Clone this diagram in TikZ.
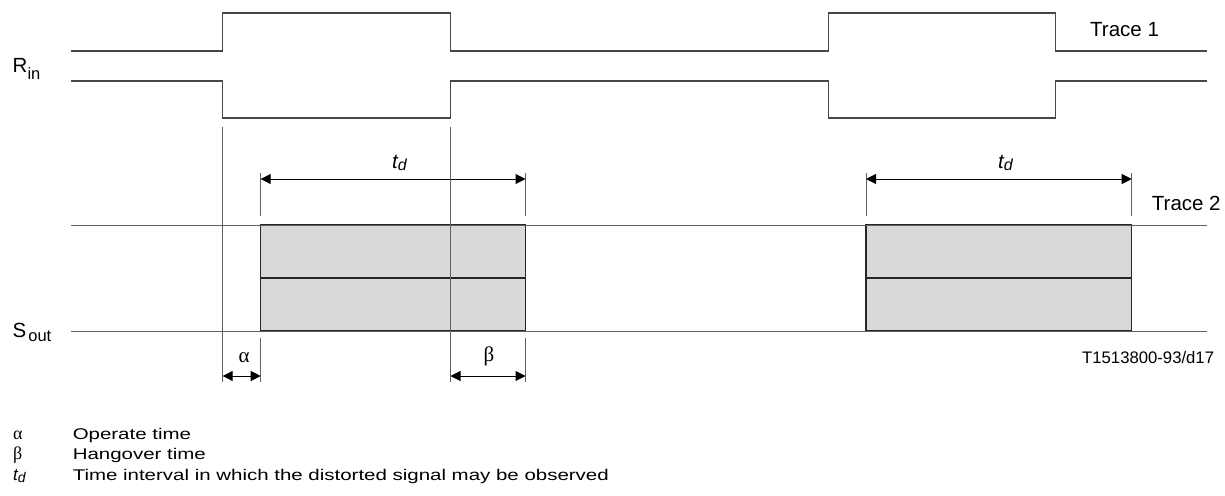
\documentclass[tikz,border=0pt]{standalone}
\usepackage{fontspec}
\setmainfont{Liberation Sans}
\newfontfamily\greekfont{Liberation Serif}
\usetikzlibrary{arrows.meta}

\newcommand{\fsz}[1]{\fontsize{#1}{#1}\selectfont}

\begin{document}
\begin{tikzpicture}[
  x=1pt, y=-1pt,
  wave/.style={draw=black!72, line width=1.3pt},
  guide/.style={draw=black!62, line width=0.9pt},
  window/.style={draw=black!85, fill=black!15, line width=1.2pt},
  dim/.style={{Triangle[length=10pt,width=10pt]}-{Triangle[length=10pt,width=10pt]}, line width=1pt},
  lbl/.style={inner sep=0pt, anchor=base west, font=\fsz{20.5}},
  keysym/.style={inner sep=0pt, anchor=base west, font=\greekfont\fsz{18}},
  legend/.style={inner sep=0pt, anchor=base west, font=\fsz{15.5}, xscale=1.32}
]
\useasboundingbox (0,0) rectangle (1225,495);

% switching instants and observation windows
\coordinate (on1) at (222.7,0);
\coordinate (off1) at (450.5,0);
\coordinate (ws1) at (260.7,0);
\coordinate (we1) at (525.5,0);

% trace 1
\foreach \yb/\yp in {51/13, 81/118}
  \draw[wave] (71,\yb) -| (222.7,\yp) -| (450.5,\yb) -| (828.5,\yp) -| (1055.7,\yb) -- (1207,\yb);

% trace 2
\foreach \s/\e/\n in {260.7/525.5/1, 866/1131.7/2} {
  \draw[window] (\s,225) rectangle (\e,331);
  \draw[window] (\s,278) -- (\e,278);
  \draw[guide] (\s,173) -- (\s,216) (\e,173) -- (\e,216);
  \coordinate (tda\n) at (\s,179);
  \coordinate (tdb\n) at (\e,179);
  \draw[dim] (tda\n) -- (tdb\n);
}
\draw[guide] (71,225) -- (1207,225);
\draw[guide] (71,331) -- (1207,331);

% guides and delays
\draw[guide] (on1 |- 0,127) -- (on1 |- 0,382);
\draw[guide] (off1 |- 0,127) -- (off1 |- 0,382);
\draw[guide] (ws1 |- 0,338) -- (ws1 |- 0,382);
\draw[guide] (we1 |- 0,338) -- (we1 |- 0,382);
\coordinate (al1) at (on1 |- 0,376);
\coordinate (al2) at (ws1 |- 0,376);
\coordinate (be1) at (off1 |- 0,376);
\coordinate (be2) at (we1 |- 0,376);
\draw[dim] (al1) -- (al2);
\draw[dim] (be1) -- (be2);

% labels
\node[lbl] (rin) at (12.5,73) {R\raisebox{-6pt}{\fsz{16.5}in}};
\node[lbl] (sout) at (12.5,337.3) {S\kern2pt\raisebox{-4.4pt}{\fsz{16.5}out}};
\node[lbl] (tr1) at (1090,36.7) {Trace 1};
\node[lbl] (tr2) at (1151.7,210) {Trace 2};
\node[lbl] (td1) at (392,168) {\itshape t\raisebox{-2pt}{\fsz{16}d}};
\node[lbl] (td2) at (998,168) {\itshape t\raisebox{-2pt}{\fsz{16}d}};
\node[inner sep=0pt, font=\greekfont\fsz{21}] (alpha) at (244,358) {α};
\node[inner sep=0pt, font=\greekfont\fsz{21}] (beta) at (489,356) {β};
\node[lbl, font=\fsz{16.7}] (fig) at (1082,363) {T1513800-93/d17};

% key
\node[keysym] (ka) at (13,439) {α};
\node[keysym] (kb) at (13,459.5) {β};
\node[lbl, font=\fsz{17}] (kt) at (13,480) {\itshape t\raisebox{-2.5pt}{\fsz{14}d}};
\node[legend] (kat) at (72.5,439) {Operate time};
\node[legend] (kbt) at (72.5,459.5) {Hangover time};
\node[legend] (ktt) at (72.5,480) {Time interval in which the distorted signal may be observed};
\end{tikzpicture}
\end{document}
